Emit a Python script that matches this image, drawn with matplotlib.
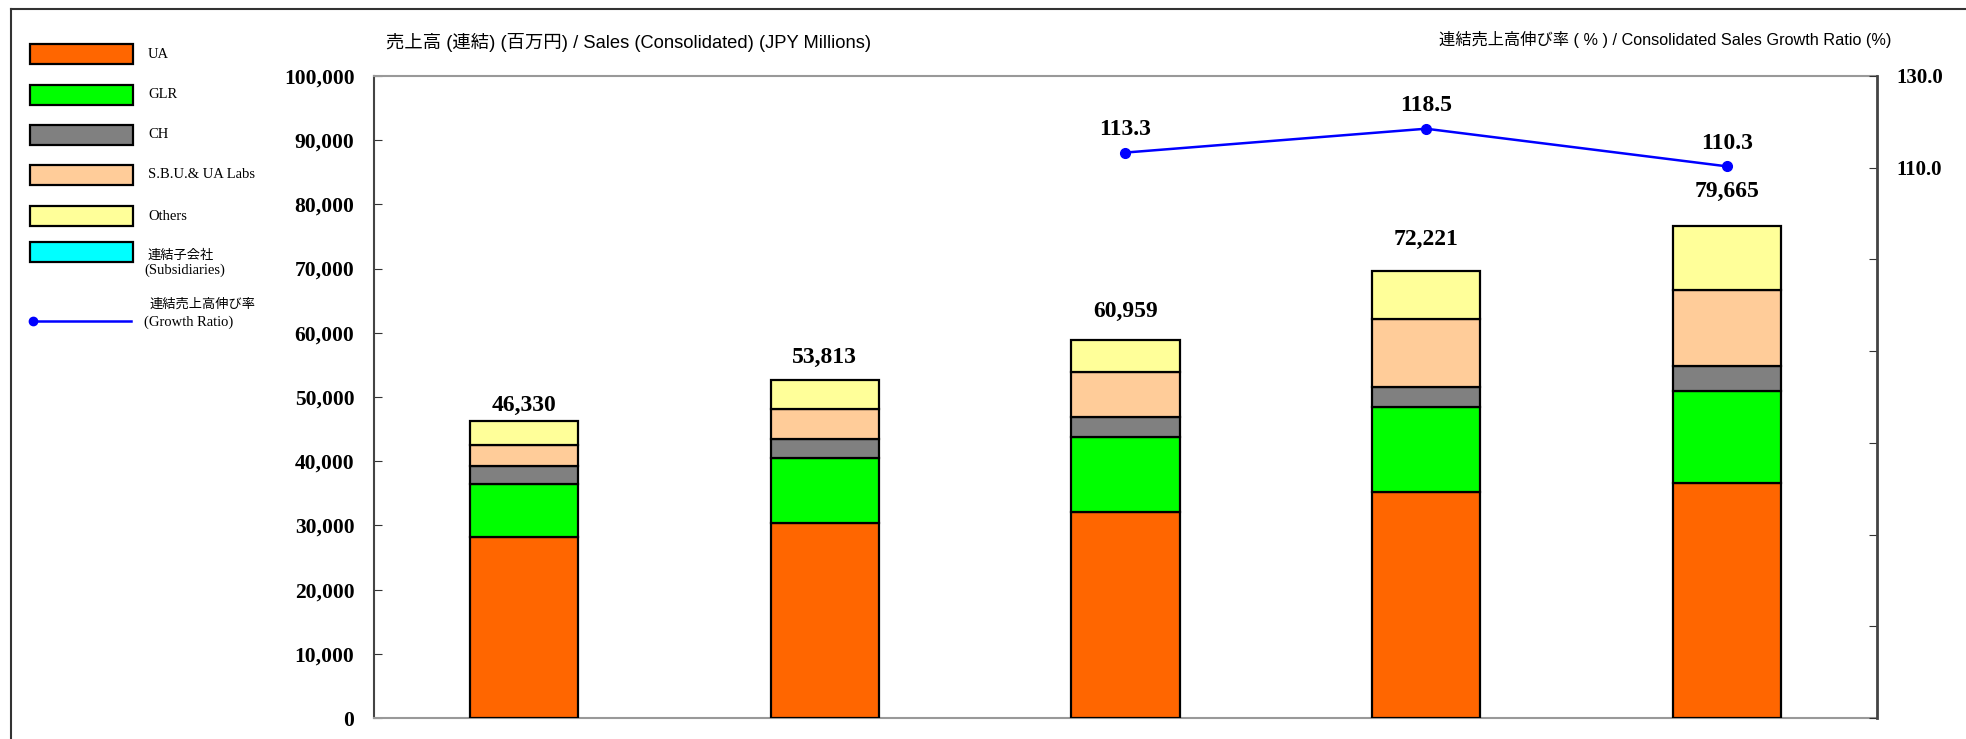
import numpy as np
import matplotlib.pyplot as plt
from matplotlib.patches import Rectangle
from matplotlib.lines import Line2D

plt.rcParams['font.family'] = ['Liberation Serif', 'Noto Sans CJK JP']

# values (JPY millions)
periods = [0, 1, 2, 3, 4]
ua = [28240, 30420, 32100, 35150, 36590]
glr = [8240, 10000, 11720, 13270, 14340]
ch = [2700, 3110, 3100, 3210, 3850]
sbu = [3360, 4560, 6960, 10590, 11830]
others = [3790, 4510, 4920, 7380, 10060]
totals = [46330, 53813, 60959, 72221, 79665]
growth = [np.nan, np.nan, 113.3, 118.5, 110.3]

series_names = ["UA", "GLR", "CH", "S.B.U.& UA Labs", "Others"]
series_colors = ["#FF6600", "#00FF00", "#808080", "#FFCC99", "#FFFF99"]
subs_color = "#00FFFF"

fig = plt.figure(figsize=(19.66, 7.39), dpi=100)
ax = fig.add_axes([0.1902, 0.0284, 0.7645, 0.8688])

bottom = np.zeros(len(periods))
for vals, name, col in zip([ua, glr, ch, sbu, others], series_names, series_colors):
    ax.bar(periods, vals, width=0.36, bottom=bottom, color=col,
           edgecolor="black", linewidth=1.6, label=name, zorder=3)
    bottom += np.array(vals)

for x, t in zip(periods, totals):
    ax.text(x, t + 2300, f"{t:,}", ha="center", va="center",
            fontsize=17, fontweight="bold")

ax.set_xlim(-0.5, 4.5)
ax.set_ylim(0, 100000)
ax.set_yticks(np.arange(0, 100001, 10000))
ax.set_yticklabels([f"{v:,}" for v in range(0, 100001, 10000)],
                   fontsize=15.5, fontweight="bold")
ax.set_xticks([])
ax.tick_params(axis="y", direction="in", length=6, pad=14, color="#333333")
for s in ["top", "bottom"]:
    ax.spines[s].set_color("#999999")
    ax.spines[s].set_linewidth(1.5)
ax.spines["left"].set_color("#444444")
ax.spines["left"].set_linewidth(1.5)
ax.spines["right"].set_visible(False)

ax2 = ax.twinx()
ax2.plot(periods, growth, color="#0000FF", linewidth=1.8, marker="o",
         markersize=7, zorder=4)
for x, g in zip(periods, growth):
    if not np.isnan(g):
        ax2.text(x, g + 5, f"{g:.1f}", ha="center", va="center",
                 fontsize=17, fontweight="bold")
ax2.set_ylim(-10, 130)
ticks_r = np.arange(-10, 131, 20)
ax2.set_yticks(ticks_r)
ax2.set_yticklabels([f"{v:.1f}" if v >= 110 else "" for v in ticks_r],
                    fontsize=15, fontweight="bold")
ax2.tick_params(axis="y", direction="in", length=6, pad=14, color="#333333")
ax2.spines["right"].set_color("#444444")
ax2.spines["right"].set_linewidth(2)
for s in ["top", "bottom", "left"]:
    ax2.spines[s].set_visible(False)

# axis titles
title_font = ['Liberation Sans Narrow', 'Liberation Sans', 'Noto Sans CJK JP']
fig.text(386 / 1966, 1 - 43 / 739, "売上高 (連結) (百万円) / Sales (Consolidated) (JPY Millions)",
         ha="left", va="center", fontsize=13.2, family=title_font)
fig.text(1891 / 1966, 1 - 40 / 739, "連結売上高伸び率 ( % ) / Consolidated Sales Growth Ratio (%)",
         ha="right", va="center", fontsize=11.7, family=title_font)

# hand-drawn legend on the left
W, H = 1966, 739
legend_rows = list(zip(series_names, series_colors, [54, 95, 135, 175, 216]))
for name, col, yc in legend_rows:
    fig.patches.append(Rectangle((30 / W, 1 - (yc + 10) / H), 103 / W, 20 / H,
                                 transform=fig.transFigure, facecolor=col,
                                 edgecolor="black", linewidth=1.6))
    fig.text(148 / W, 1 - yc / H, name, ha="left", va="center", fontsize=10.5)
fig.patches.append(Rectangle((30 / W, 1 - 262 / H), 103 / W, 20 / H,
                             transform=fig.transFigure, facecolor=subs_color,
                             edgecolor="black", linewidth=1.6))
fig.text(148 / W, 1 - 256 / H, "連結子会社", ha="left", va="center", fontsize=9.5)
fig.text(144 / W, 1 - 270 / H, "(Subsidiaries)", ha="left", va="center", fontsize=10.5)
fig.lines.append(Line2D([33 / W, 131 / W], [1 - 321 / H, 1 - 321 / H],
                        transform=fig.transFigure, color="#0000FF", linewidth=1.8,
                        marker="o", markersize=6, markevery=[0]))
fig.text(150 / W, 1 - 305 / H, "連結売上高伸び率", ha="left", va="center", fontsize=9.5)
fig.text(144 / W, 1 - 322 / H, "(Growth Ratio)", ha="left", va="center", fontsize=10.5)

# outer frame (left and top edges visible)
fig.lines.append(Line2D([11 / W, 11 / W], [0, 1 - 9 / H], transform=fig.transFigure,
                        color="#333333", linewidth=1.5))
fig.lines.append(Line2D([11 / W, 1], [1 - 9 / H, 1 - 9 / H], transform=fig.transFigure,
                        color="#333333", linewidth=1.5))

fig.savefig("out.png", dpi=100)
